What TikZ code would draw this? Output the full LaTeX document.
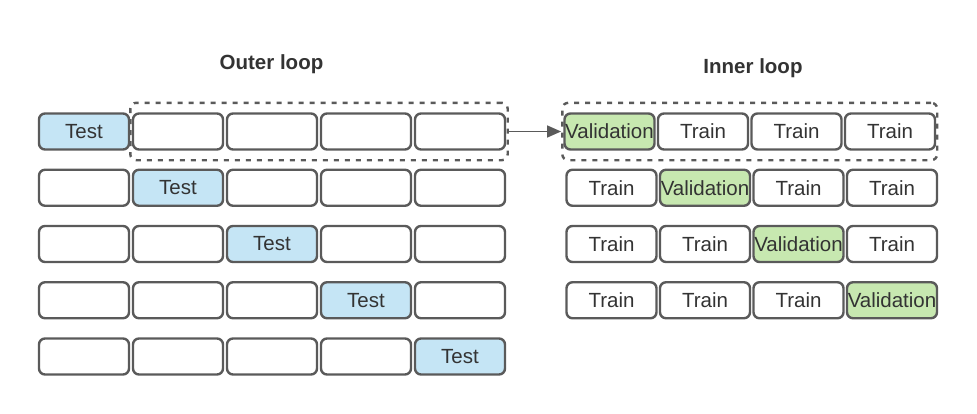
\documentclass[tikz,border=0pt]{standalone}
\usepackage{fontspec}
\setmainfont{Liberation Sans}
\usepackage{xcolor}
\usepackage{tikz}
\usetikzlibrary{fit,arrows.meta}

\definecolor{testblue}{HTML}{C5E5F5}
\definecolor{valgreen}{HTML}{C7E8B0}
\definecolor{cellline}{HTML}{5A5A5A}
\definecolor{celltext}{HTML}{333333}

\begin{document}
\begin{tikzpicture}[x=1pt,y=-1pt,
    cell/.style={draw=cellline,line width=2.4pt,rounded corners=6pt,
      minimum width=90pt,minimum height=36pt,inner sep=0pt,
      text=celltext,font=\fontsize{20.5}{24}\selectfont},
    testcell/.style={cell,fill=testblue},
    valcell/.style={cell,fill=valgreen},
    fold/.style={draw=cellline,line width=2.4pt,dash pattern=on 5pt off 6pt,
      rounded corners=6pt,inner xsep=1.5pt,inner ysep=9.5pt},
    title/.style={anchor=base,text=celltext,font=\bfseries\fontsize{20.5}{24}\selectfont}]

    \useasboundingbox (0,0) rectangle (977,413);
          % Keeps the margins of the page

    \node[title] (outertitle) at (271.5,69) {Outer loop};
    \node[title] (innertitle) at (753,73) {Inner loop};

    \foreach \r in {1,...,5}{% One row per outer fold
      \foreach \c in {1,...,5}{% and one cell per part of the data
        \ifnum\c=\r
          \node[testcell] (o-\r-\c) at ({84+94*(\c-1)},{131.5+56.25*(\r-1)}) {Test};
        \else
          \node[cell] (o-\r-\c) at ({84+94*(\c-1)},{131.5+56.25*(\r-1)}) {};
        \fi
      }
    }

    \foreach \r in {1,...,4}{% One row per inner fold
      \foreach \c in {1,...,4}{% the first row sits a little to the left
        \ifnum\c=\r
          \node[valcell] (i-\r-\c) at ({611.5-2*(\r==1)+93.5*(\c-1)},{131.5+56.25*(\r-1)}) {Validation};
        \else
          \node[cell] (i-\r-\c) at ({611.5-2*(\r==1)+93.5*(\c-1)},{131.5+56.25*(\r-1)}) {Train};
        \fi
      }
    }

    \node[fold,fit=(o-1-2)(o-1-5)] (outerfold) {};
    \node[fold,inner xsep=1pt,fit=(i-1-1)(i-1-4)] (innerfold) {};
          % Dashed frames round the training parts

    \draw[-{Triangle[length=14pt,width=12pt]},draw=cellline,fill=cellline,line width=1.4pt]
      (outerfold.east) -- (innerfold.west);
\end{tikzpicture}
\end{document}
